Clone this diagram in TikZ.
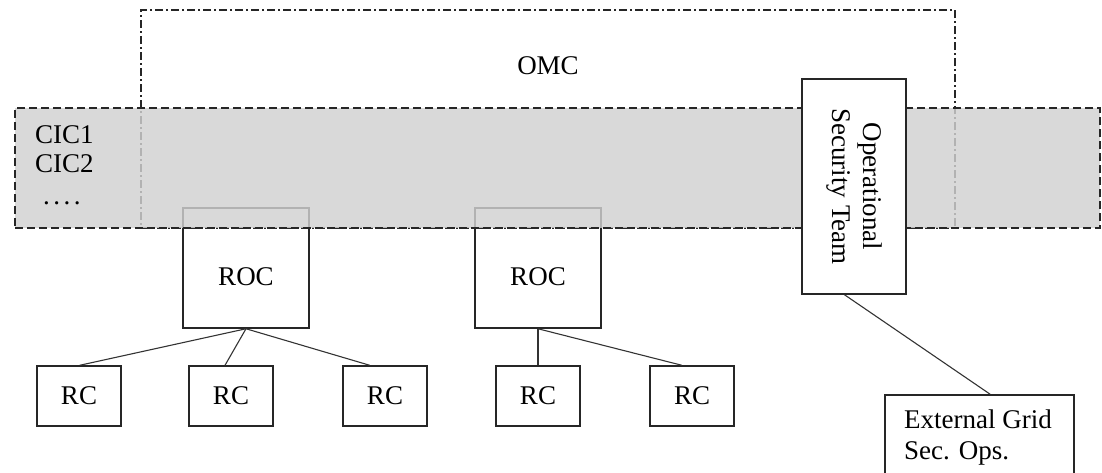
\documentclass[tikz,border=0pt]{standalone}
\usepackage{fontspec}
\setmainfont{Liberation Serif}
\usetikzlibrary{calc}
\begin{document}
\begin{tikzpicture}[x=1pt,y=-1pt,
  font=\fontsize{27}{31}\selectfont,
  box/.style={draw=black!85, line width=1.5pt, inner sep=0pt},
  whitebox/.style={box, fill=white},
  omcframe/.style={draw=black!85, line width=1.3pt,
    dash pattern=on 8pt off 3pt on 2pt off 3pt, inner sep=0pt},
  band/.style={draw=black!85, line width=1.5pt, dash pattern=on 8pt off 4pt,
    fill=black!18, fill opacity=0.82, inner sep=0pt},
  link/.style={draw=black!80, line width=1.1pt},
  txt/.style={inner sep=0pt}]
\useasboundingbox (0,0) rectangle (1102,472);
\clip (0,0) rectangle (1102,472);

% OMC frame (dash-dot), continuing behind the CIC band
\node[omcframe, minimum width=814pt, minimum height=218pt] (omc) at (548,119) {};
\node[txt] (omclabel) at (548,66) {OMC};

% ROC boxes, their tops reaching into the band
\node[box, minimum width=126pt, minimum height=120pt] (roc1) at (246,268) {};
\node[box, minimum width=126pt, minimum height=120pt] (roc2) at (538,268) {};

% shaded CIC band drawn over the frames
\node[band, minimum width=1085pt, minimum height=120pt] (cic) at (557.5,168) {};
\node[txt, anchor=base west] (cic1) at (35,143) {CIC1};
\node[txt, anchor=base west] (cic2) at (35,172) {CIC2};
\node[txt, anchor=base west] (cicmore) at (43,204) {.\kern3.5pt.\kern3.5pt.\kern3.5pt.};

% ROC labels
\node[txt] (roc1label) at ($(roc1.center)+(0,9)$) {ROC};
\node[txt] (roc2label) at ($(roc2.center)+(0,9)$) {ROC};

% Operational Security Team
\node[whitebox, minimum width=104pt, minimum height=215pt] (ost) at (854,186.5) {};
\node[txt, rotate=-90, align=center] (ostlabel) at (ost.center) {Operational\\Security Team};

% External Grid Sec. Ops.
\node[whitebox, minimum width=189pt, minimum height=100pt] (ext) at (979.5,445) {};
\node[txt, anchor=base west] (extline1) at (904,428) {External Grid};
\node[txt, anchor=base west] (extline2) at (904,459) {Sec. Ops.};

% RC boxes
\node[whitebox, minimum width=84pt, minimum height=60pt] (rc1) at (79,396) {RC};
\node[whitebox, minimum width=84pt, minimum height=60pt] (rc2) at (231,396) {RC};
\node[whitebox, minimum width=84pt, minimum height=60pt] (rc3) at (385,396) {RC};
\node[whitebox, minimum width=84pt, minimum height=60pt] (rc4) at (538,396) {RC};
\node[whitebox, minimum width=84pt, minimum height=60pt] (rc5) at (692,396) {RC};

% connectors
\draw[link] (roc1.south) -- ($(rc1.north west)!0.51!(rc1.north east)$);
\draw[link] (roc1.south) -- ($(rc2.north west)!0.43!(rc2.north east)$);
\draw[link] (roc1.south) -- ($(rc3.north west)!0.32!(rc3.north east)$);
\draw[link] (roc2.south) -- (rc4.north);
\draw[link] (roc2.south) -- ($(rc5.north west)!0.38!(rc5.north east)$);
\draw[link] ($(ost.south west)!0.41!(ost.south east)$) -- ($(ext.north west)!0.556!(ext.north east)$);
\end{tikzpicture}
\end{document}
